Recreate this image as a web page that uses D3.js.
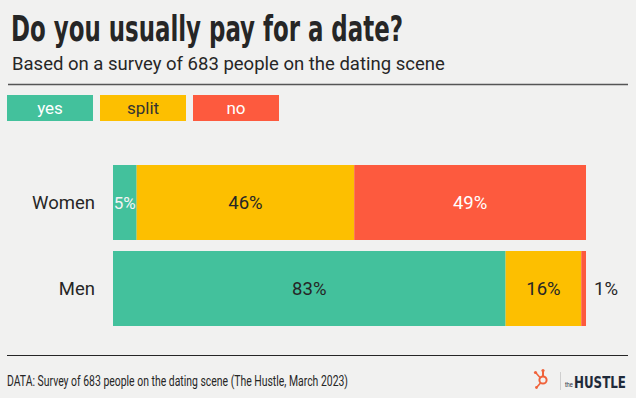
<!DOCTYPE html>
<html>
<head>
<meta charset="utf-8">
<script src="https://cdn.jsdelivr.net/npm/d3@7"></script>
<style>
  body { margin: 0; background: #f1f1f0; }
  svg { display: block; font-family: Roboto, "Noto Sans", sans-serif; }
</style>
</head>
<body>
<div id="chart"></div>
<script>
(function () {
  'use strict';

  // data
  var groups = ['Women', 'Men'];
  var answers = ['yes', 'split', 'no'];
  var women = [5, 46, 49];
  var men = [83, 16, 1];
  var colors = ['#43c19c', '#fdbf00', '#fd5a3e'];
  var legendText = ['#ffffff', '#333333', '#ffffff'];

  var width = 636, height = 398;
  var svg = d3.select('#chart').append('svg')
    .attr('width', width)
    .attr('height', height);

  svg.append('rect').attr('width', width).attr('height', height).attr('fill', '#f1f1f0');

  // title block
  svg.append('text')
    .attr('x', 11).attr('y', 41)
    .attr('font-family', '"Liberation Sans Narrow", "DejaVu Sans Condensed", sans-serif')
    .attr('font-weight', 'bold')
    .attr('font-size', 35)
    .attr('fill', '#262626')
    .attr('textLength', 392)
    .attr('lengthAdjust', 'spacingAndGlyphs')
    .text('Do you usually pay for a date?');

  svg.append('text')
    .attr('x', 12).attr('y', 70)
    .attr('font-size', 18.5)
    .attr('fill', '#262626')
    .text('Based on a survey of 683 people on the dating scene');

  svg.append('line')
    .attr('x1', 8).attr('x2', 628).attr('y1', 84.5).attr('y2', 84.5)
    .attr('stroke', '#555').attr('stroke-width', 1.5);

  // legend
  var legend = svg.append('g').selectAll('g')
    .data(answers)
    .enter().append('g')
      .attr('transform', function(d, i) { return 'translate(' + (7 + i * 93) + ',95)'; });
  legend.append('rect')
    .attr('width', 86).attr('height', 26)
    .attr('fill', function(d, i) { return colors[i]; });
  legend.append('text')
    .attr('x', 43).attr('y', 13).attr('dy', '0.36em')
    .attr('text-anchor', 'middle')
    .attr('font-size', 17)
    .attr('fill', function(d, i) { return legendText[i]; })
    .text(function(d) { return d; });

  // bars
  var x = d3.scaleLinear().domain([0, 100]).range([113, 586]);
  var y = d3.scaleBand().domain(groups).range([165, 326]).paddingInner(11 / 86);

  var rows = groups.map(function(g, gi) {
    var vals = gi === 0 ? women : men;
    var acc = 0;
    return vals.map(function(v, i) {
      var seg = { group: g, answer: answers[i], index: i, value: v, x0: acc, x1: acc + v };
      acc += v;
      return seg;
    });
  });

  // small slices get light text, the 1% sits outside the bar
  function labelColor(d) {
    if (d.value < 3) return '#262626';
    if (d.answer === 'no') return '#ffffff';
    if (d.answer === 'yes' && d.value < 10) return '#f4f4f4';
    return '#262626';
  }

  svg.append('g').selectAll('text')
    .data(groups)
    .enter().append('text')
      .attr('x', 95)
      .attr('y', function(d) { return y(d) + y.bandwidth() / 2; })
      .attr('dy', '0.36em')
      .attr('text-anchor', 'end')
      .attr('font-size', 18.5)
      .attr('fill', '#262626')
      .text(function(d) { return d; });

  var seg = svg.append('g').selectAll('g')
    .data(d3.merge(rows))
    .enter().append('g');

  seg.append('rect')
    .attr('x', function(d) { return x(d.x0); })
    .attr('y', function(d) { return y(d.group); })
    .attr('width', function(d) { return x(d.x1) - x(d.x0); })
    .attr('height', y.bandwidth())
    .attr('fill', function(d) { return colors[d.index]; });

  seg.append('text')
    .attr('x', function(d) {
      return d.value < 3 ? x(d.x1) + 20 : (x(d.x0) + x(d.x1)) / 2;
    })
    .attr('y', function(d) { return y(d.group) + y.bandwidth() / 2; })
    .attr('dy', '0.36em')
    .attr('text-anchor', 'middle')
    .attr('font-size', function(d) { return d.value < 10 && d.value >= 3 ? 17 : 18.5; })
    .attr('fill', labelColor)
    .text(function(d) { return d.value + '%'; });

  // footer
  svg.append('line')
    .attr('x1', 7).attr('x2', 628).attr('y1', 355.5).attr('y2', 355.5)
    .attr('stroke', '#262626').attr('stroke-width', 1.2);

  svg.append('text')
    .attr('x', 7).attr('y', 386)
    .attr('font-size', 14)
    .attr('fill', '#262626')
    .attr('textLength', 341)
    .attr('lengthAdjust', 'spacingAndGlyphs')
    .text('DATA: Survey of 683 people on the dating scene (The Hustle, March 2023)');

  // hubspot sprocket + the HUSTLE mark
  var logo = svg.append('g').attr('transform', 'translate(543,380)');
  logo.append('circle').attr('r', 3.6).attr('fill', 'none').attr('stroke', '#f0623a').attr('stroke-width', 2);
  logo.append('line').attr('x1', 0).attr('y1', -3.5).attr('x2', 0).attr('y2', -9)
    .attr('stroke', '#f0623a').attr('stroke-width', 2);
  logo.append('line').attr('x1', -3).attr('y1', -2.5).attr('x2', -7).attr('y2', -7)
    .attr('stroke', '#f0623a').attr('stroke-width', 1.6);
  logo.append('line').attr('x1', -2.5).attr('y1', 3).attr('x2', -6).attr('y2', 7)
    .attr('stroke', '#f0623a').attr('stroke-width', 1.6);
  logo.append('circle').attr('cx', -7.5).attr('cy', -7.5).attr('r', 1.6).attr('fill', '#f0623a');
  logo.append('circle').attr('cx', 0).attr('cy', -9.5).attr('r', 1.6).attr('fill', '#f0623a');
  logo.append('circle').attr('cx', -6.5).attr('cy', 7.5).attr('r', 1.4).attr('fill', '#f0623a');

  svg.append('line')
    .attr('x1', 560.5).attr('x2', 560.5).attr('y1', 372).attr('y2', 390)
    .attr('stroke', '#cfcfcf').attr('stroke-width', 1);

  svg.append('text')
    .attr('x', 565).attr('y', 387)
    .attr('font-family', '"Liberation Sans Narrow", sans-serif')
    .attr('font-size', 7)
    .attr('fill', '#1f2a3a')
    .attr('textLength', 8)
    .attr('lengthAdjust', 'spacingAndGlyphs')
    .text('the');
  svg.append('text')
    .attr('x', 574).attr('y', 388)
    .attr('font-family', '"Liberation Sans Narrow", "DejaVu Sans Condensed", sans-serif')
    .attr('font-weight', 'bold')
    .attr('font-size', 16)
    .attr('fill', '#1f2a3a')
    .attr('textLength', 52)
    .attr('lengthAdjust', 'spacingAndGlyphs')
    .text('HUSTLE');
}());
</script>
</body>
</html>
